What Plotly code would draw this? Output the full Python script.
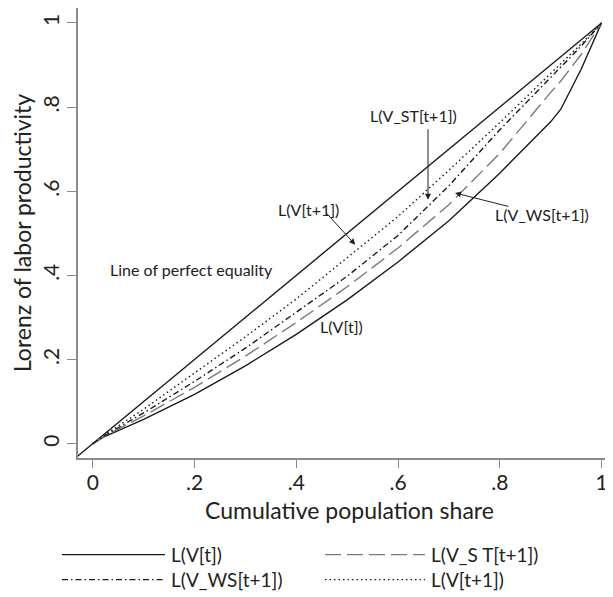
import plotly.graph_objects as go

# ---- data ----
pop_share = [0.0, 0.02, 0.1, 0.2, 0.3, 0.4, 0.5, 0.6, 0.7, 0.8, 0.9, 0.92, 0.96, 1.0]
L_V_t      = [0.0, 0.015, 0.058, 0.117, 0.185, 0.260, 0.342, 0.432, 0.530, 0.643, 0.765, 0.795, 0.890, 1.0]
L_V_ST_t1  = [0.0, 0.016, 0.066, 0.134, 0.208, 0.288, 0.373, 0.465, 0.568, 0.690, 0.835, 0.862, 0.925, 1.0]
L_V_WS_t1  = [0.0, 0.017, 0.073, 0.148, 0.227, 0.312, 0.398, 0.495, 0.613, 0.746, 0.870, 0.895, 0.945, 1.0]
L_V_t1     = [0.0, 0.018, 0.082, 0.167, 0.254, 0.344, 0.442, 0.540, 0.650, 0.763, 0.880, 0.903, 0.950, 1.0]
equality_x = [-0.04, 1.0]

x_ticks = [0, 0.2, 0.4, 0.6, 0.8, 1]
x_tick_labels = ["0", ".2", ".4", ".6", ".8", "1"]
y_ticks = [0, 0.2, 0.4, 0.6, 0.8, 1]
y_tick_labels = ["0", ".2", ".4", ".6", ".8", "1"]

FONT = "Lato"
TXT = "#222222"
OFF = 8  # page body margin

fig = go.Figure()
fig.add_trace(go.Scatter(x=equality_x, y=equality_x, mode="lines",
                         line=dict(color="#1a1a1a", width=1.4), showlegend=False,
                         name="Line of perfect equality"))
fig.add_trace(go.Scatter(x=pop_share, y=L_V_t, mode="lines",
                         line=dict(color="#1a1a1a", width=1.4), name="L(V[t])", showlegend=False))
fig.add_trace(go.Scatter(x=pop_share, y=L_V_ST_t1, mode="lines",
                         line=dict(color="#7a7a7a", width=1.4, dash="16px,6px"),
                         name="L(V_S T[t+1])", showlegend=False))
fig.add_trace(go.Scatter(x=pop_share, y=L_V_WS_t1, mode="lines",
                         line=dict(color="#1a1a1a", width=1.4, dash="6px,3px,1.5px,3px"),
                         name="L(V_WS[t+1])", showlegend=False))
fig.add_trace(go.Scatter(x=pop_share, y=L_V_t1, mode="lines",
                         line=dict(color="#1a1a1a", width=1.4, dash="1.5px,3px"),
                         name="L(V[t+1])", showlegend=False))

ann_font = dict(family=FONT, size=16, color=TXT)
annotations = [
    dict(x=0.630, y=0.779, text="L(V_ST[t+1])", showarrow=False, font=ann_font),
    dict(x=0.787, y=0.544, text="L(V_WS[t+1])", showarrow=False, xanchor="left", font=ann_font),
    dict(x=0.425, y=0.556, text="L(V[t+1])", showarrow=False, font=ann_font),
    dict(x=0.030, y=0.413, text="Line of perfect equality", showarrow=False, xanchor="left", font=ann_font),
    dict(x=0.443, y=0.278, text="L(V[t])", showarrow=False, xanchor="left", font=ann_font),
]
arrows = [
    ((0.659, 0.580), (0.659, 0.751)),
    ((0.712, 0.596), (0.820, 0.563)),
    ((0.516, 0.473), (0.457, 0.551)),
]
for (tx, ty), (sx, sy) in arrows:
    annotations.append(dict(x=tx, y=ty, ax=sx, ay=sy, xref="x", yref="y", axref="x", ayref="y",
                            text="", showarrow=True, arrowhead=2, arrowsize=1.2,
                            arrowwidth=1, arrowcolor="#222222", standoff=0))

# ---- plot area in figure pixels ----
ML, MT = 70, 0
PB = 450.3          # plot bottom (figure px)
W, H = 613, 597
MR = 0
MB = H - PB

def px(xs):   # screen x -> paper
    return (xs - OFF - ML) / (W - MR - ML)
def py(ys):   # screen y -> paper
    return (PB - (ys - OFF)) / (PB - MT)

legend_items = [
    ("L(V[t])", "solid", "#1a1a1a", 62, 165, 555),
    ("L(V_S T[t+1])", "16px,6px", "#7a7a7a", 325, 425, 555),
    ("L(V_WS[t+1])", "6px,3px,1.5px,3px", "#1a1a1a", 62, 165, 580),
    ("L(V[t+1])", "1.5px,3px", "#1a1a1a", 325, 425, 580),
]
shapes = []
for label, dash, col, x0, x1, yy in legend_items:
    shapes.append(dict(type="line", xref="paper", yref="paper",
                       x0=px(x0), x1=px(x1), y0=py(yy), y1=py(yy),
                       line=dict(color=col, width=1.4, dash=dash)))
    annotations.append(dict(xref="paper", yref="paper", x=px(x1 + 4), y=py(yy),
                            text=label, showarrow=False, xanchor="left", yanchor="middle",
                            font=dict(family=FONT, size=19, color=TXT)))

fig.update_layout(
    width=W, height=H,
    margin=dict(l=ML, r=MR, t=MT, b=MB, autoexpand=False),
    paper_bgcolor="white", plot_bgcolor="white",
    font=dict(family=FONT, color=TXT),
    annotations=annotations, shapes=shapes,
    showlegend=False,
)
fig.update_xaxes(range=[-0.029, 1.0383], tickvals=x_ticks, ticktext=x_tick_labels,
                 automargin=False, ticklabelstandoff=-3,
                 showline=True, linecolor="#8a8a8a", linewidth=1.5, ticks="outside",
                 ticklen=8, tickcolor="#8a8a8a", tickwidth=1.2, showgrid=False, zeroline=False,
                 tickfont=dict(family=FONT, size=21, color=TXT),
                 title=dict(text="Cumulative population share", standoff=10,
                            font=dict(family=FONT, size=23, color=TXT)))
fig.update_yaxes(range=[-0.034, 1.0356], tickvals=y_ticks, ticktext=y_tick_labels,
                 automargin=False,
                 showline=True, linecolor="#8a8a8a", linewidth=1.5, ticks="outside",
                 ticklen=9, tickcolor="#8a8a8a", tickwidth=1.2, showgrid=False, zeroline=False,
                 tickangle=-90,
                 tickfont=dict(family=FONT, size=21, color=TXT),
                 title=dict(text="Lorenz of labor productivity", standoff=6,
                            font=dict(family=FONT, size=23, color=TXT)))

fig.write_html("out.html")
